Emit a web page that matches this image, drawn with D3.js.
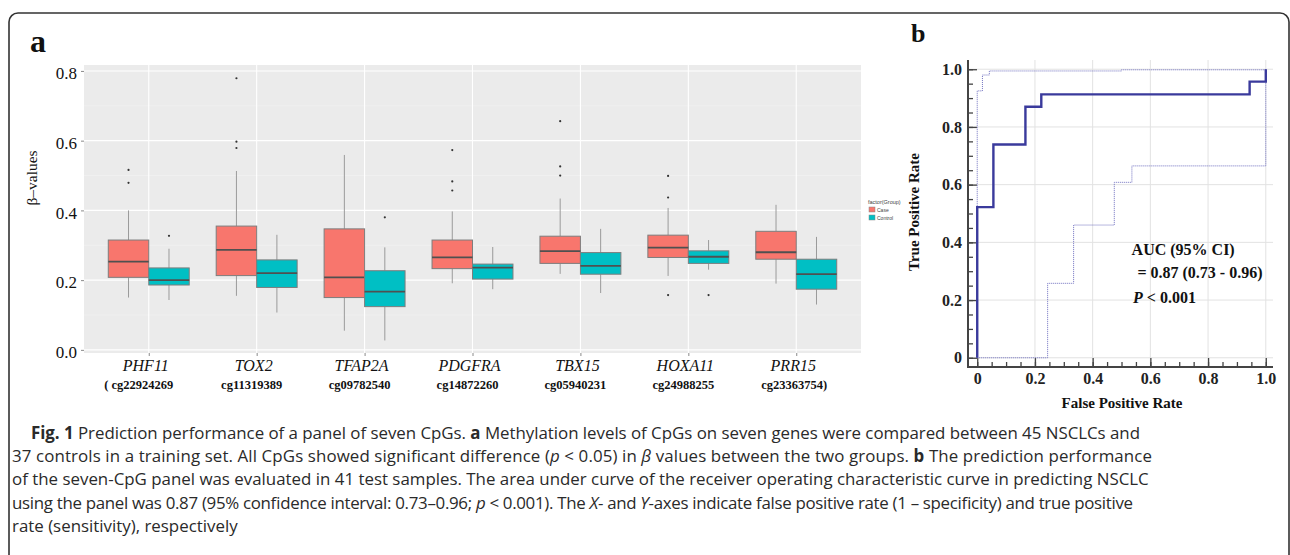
<!DOCTYPE html>
<html>
<head>
<meta charset="utf-8">
<script src="https://cdn.jsdelivr.net/npm/d3@7"></script>
<style>
body { margin: 0; background: #fff; }
svg { display: block; }
</style>
</head>
<body>
<script>
// panel a: beta values per gene, two groups
const genes = ['PHF11', 'TOX2', 'TFAP2A', 'PDGFRA', 'TBX15', 'HOXA11', 'PRR15'];
const probes = ['( cg22924269', 'cg11319389', 'cg09782540', 'cg14872260', 'cg05940231', 'cg24988255', 'cg23363754)'];
const groups = ['Case', 'Control'];
const groupColors = ['#F8766D', '#00BFC4'];

const caseLo  = [0.150, 0.155, 0.055, 0.191, 0.218, 0.212, 0.190];
const caseQ1  = [0.208, 0.213, 0.150, 0.233, 0.248, 0.265, 0.260];
const caseMed = [0.253, 0.287, 0.208, 0.265, 0.283, 0.293, 0.280];
const caseQ3  = [0.315, 0.355, 0.347, 0.315, 0.326, 0.329, 0.340];
const caseHi  = [0.400, 0.513, 0.559, 0.397, 0.434, 0.407, 0.416];
const caseOut = [[0.516, 0.479], [0.779, 0.597, 0.579], [], [0.573, 0.483, 0.457],
                 [0.656, 0.526, 0.500], [0.499, 0.437, 0.157], []];

const ctrlLo  = [0.143, 0.107, 0.027, 0.174, 0.163, 0.230, 0.130];
const ctrlQ1  = [0.186, 0.179, 0.124, 0.203, 0.217, 0.248, 0.174];
const ctrlMed = [0.200, 0.220, 0.167, 0.236, 0.241, 0.267, 0.217];
const ctrlQ3  = [0.235, 0.258, 0.227, 0.246, 0.279, 0.284, 0.260];
const ctrlHi  = [0.290, 0.330, 0.294, 0.295, 0.347, 0.315, 0.324];
const ctrlOut = [[0.327], [], [0.380], [], [], [0.157], []];

const betaTicks = [0, 0.2, 0.4, 0.6, 0.8];
const betaMinor = [0.1, 0.3, 0.5, 0.7];

// panel b: ROC curve with 95% CI bands (step points)
const rocFpr = [0, 0, 0.056, 0.167, 0.222, 0.944, 1];
const rocTpr = [0, 0.522, 0.739, 0.870, 0.913, 0.957, 1];
const ciHiFpr = [0, 0, 0.018, 0.042, 0.50, 1];
const ciHiTpr = [0, 0.925, 0.980, 0.994, 0.998, 1];
const ciLoFpr = [0, 0.244, 0.334, 0.475, 0.536, 1];
const ciLoTpr = [0, 0.258, 0.460, 0.608, 0.665, 1];
const rocTicks = [0, 0.2, 0.4, 0.6, 0.8, 1.0];

const caption = [
    [['Fig. 1', 'b'], [' Prediction performance of a panel of seven CpGs. '], ['a', 'b'],
     [' Methylation levels of CpGs on seven genes were compared between 45 NSCLCs and']],
    [['37 controls in a training set. All CpGs showed significant difference ('], ['p', 'i'],
     [' < 0.05) in '], ['β', 'i'], [' values between the two groups. '], ['b', 'b'], [' The prediction performance']],
    [['of the seven-CpG panel was evaluated in 41 test samples. The area under curve of the receiver operating characteristic curve in predicting NSCLC']],
    [['using the panel was 0.87 (95% confidence interval: 0.73–0.96; '], ['p', 'i'], [' < 0.001). The '],
     ['X', 'i'], ['- and '], ['Y', 'i'], ['-axes indicate false positive rate (1 – specificity) and true positive']],
    [['rate (sensitivity), respectively']]
];

const SERIF = '"Liberation Serif", "Times New Roman", serif';

// small stand-in for d3-selection-multi
d3.selection.prototype.attrs = function(obj)
{
    Object.entries(obj).forEach(([k, v]) => this.attr(k, v));
    return this;
};

function drawBoxes(parent)
{
    const x = d3.scalePoint().domain(genes).range([84, 861]).padding(0.6);
    const y = d3.scaleLinear().domain([-0.009, 0.817]).range([353, 65]);
    const bw = x.step() * 0.75 / 2;

    parent.append('rect')
        .attrs({x: 84, y: 65, width: 777, height: 288, fill: '#EBEBEB'});

    parent.selectAll('.minor').data(betaMinor).enter().append('line')
        .attrs({x1: 84, x2: 861, y1: d => y(d), y2: d => y(d), stroke: '#F3F3F3', 'stroke-width': 0.6});
    parent.selectAll('.major').data(betaTicks).enter().append('line')
        .attrs({x1: 84, x2: 861, y1: d => y(d), y2: d => y(d), stroke: '#fff', 'stroke-width': 1.1});
    parent.selectAll('.vgrid').data(genes).enter().append('line')
        .attrs({x1: d => x(d), x2: d => x(d), y1: 65, y2: 353, stroke: '#fff', 'stroke-width': 1.1});

    const series = [
        {lo: caseLo, q1: caseQ1, med: caseMed, q3: caseQ3, hi: caseHi, out: caseOut, off: -bw / 2, col: groupColors[0]},
        {lo: ctrlLo, q1: ctrlQ1, med: ctrlMed, q3: ctrlQ3, hi: ctrlHi, out: ctrlOut, off: bw / 2, col: groupColors[1]},
    ];
    series.forEach(s => {
        const g = parent.append('g');
        genes.forEach((gene, i) => {
            const cx = x(gene) + s.off;
            g.append('line').attrs({x1: cx, x2: cx, y1: y(s.hi[i]), y2: y(s.q3[i]), stroke: '#9a9a9a', 'stroke-width': 1});
            g.append('line').attrs({x1: cx, x2: cx, y1: y(s.q1[i]), y2: y(s.lo[i]), stroke: '#9a9a9a', 'stroke-width': 1});
            g.append('rect').attrs({
                x: cx - bw / 2, y: y(s.q3[i]), width: bw, height: y(s.q1[i]) - y(s.q3[i]),
                fill: s.col, stroke: '#7d7d7d', 'stroke-width': 1
            });
            g.append('line').attrs({x1: cx - bw / 2, x2: cx + bw / 2, y1: y(s.med[i]), y2: y(s.med[i]),
                stroke: '#505050', 'stroke-width': 1.8});
            g.selectAll(null).data(s.out[i]).enter().append('circle')
                .attrs({cx: cx, cy: d => y(d), r: 1.1, fill: '#333'});
        });
    });

    const yAxis = parent.append('g')
        .attr('transform', 'translate(84,0)')
        .call(d3.axisLeft(y).tickValues(betaTicks).tickFormat(d3.format('.1f')).tickSize(3).tickPadding(4));
    yAxis.select('.domain').remove();
    yAxis.selectAll('line').attr('stroke', '#8a8a8a');
    yAxis.selectAll('text').attrs({'font-family': SERIF, 'font-size': 17, fill: '#111', dy: '0.45em'});

    const xAxis = parent.append('g')
        .attr('transform', 'translate(0,353)')
        .call(d3.axisBottom(x).tickSize(3).tickFormat(''));
    xAxis.select('.domain').remove();
    xAxis.selectAll('line').attr('stroke', '#8a8a8a');

    parent.selectAll('.gene').data(genes).enter().append('text')
        .attrs({x: d => x(d) - 3, y: 371, 'text-anchor': 'middle', 'font-family': SERIF,
            'font-style': 'italic', 'font-size': 16, fill: '#111'})
        .text(d => d);
    parent.selectAll('.probe').data(probes).enter().append('text')
        .attrs({x: (d, i) => x(genes[i]) - 5 + (i === 0 ? -5 : 0) + (i === 6 ? 3 : 0), y: 389,
            'text-anchor': 'middle', 'font-family': SERIF, 'font-weight': 'bold', 'font-size': 12.5, fill: '#111'})
        .text(d => d);

    parent.append('text')
        .attrs({transform: 'translate(37,178) rotate(-90)', 'text-anchor': 'middle',
            'font-family': SERIF, 'font-size': 15.5, fill: '#111'})
        .text('β–values');

    // legend
    const leg = parent.append('g').attr('transform', 'translate(868,202)');
    leg.append('text').attrs({x: 0, y: 2, 'font-family': 'Liberation Sans, sans-serif', 'font-size': 5.5, fill: '#444'})
        .text('factor(Group)');
    groups.forEach((grp, i) => {
        leg.append('rect').attrs({x: 1, y: 5 + i * 8, width: 6, height: 5, fill: groupColors[i], stroke: '#888', 'stroke-width': 0.5});
        leg.append('text').attrs({x: 9, y: 9.5 + i * 8, 'font-family': 'Liberation Sans, sans-serif', 'font-size': 5, fill: '#444'})
            .text(grp);
    });
}

function drawRoc(parent)
{
    const x = d3.scaleLinear().domain([-0.032, 1.025]).range([968, 1273]);
    const y = d3.scaleLinear().domain([-0.032, 1.032]).range([367, 60]);

    parent.selectAll('.hg').data(rocTicks).enter().append('line')
        .attrs({x1: 968, x2: 1273, y1: d => y(d), y2: d => y(d), stroke: '#e2e2e2', 'stroke-width': 1});
    parent.selectAll('.vg').data(rocTicks.slice(1)).enter().append('line')
        .attrs({x1: d => x(d), x2: d => x(d), y1: 60, y2: 367, stroke: '#e2e2e2', 'stroke-width': 1});

    const fmt = d => d === 0 ? '0' : d3.format('.1f')(d);
    const minor = d3.range(0, 1.001, 0.05);

    const styleAxis = g => {
        g.select('.domain').remove();
        g.selectAll('line').attrs({stroke: '#444', 'stroke-width': 1.3});
        g.selectAll('text').attrs({'font-family': SERIF, 'font-weight': 'bold', 'font-size': 16, fill: '#222'});
    };
    parent.append('g').attr('transform', 'translate(968,0)')
        .call(d3.axisLeft(y).tickValues(minor).tickSize(-5).tickFormat('')).call(styleAxis);
    parent.append('g').attr('transform', 'translate(968,0)')
        .call(d3.axisLeft(y).tickValues(rocTicks).tickSize(-9).tickPadding(6).tickFormat(fmt)).call(styleAxis);
    parent.append('g').attr('transform', 'translate(0,367)')
        .call(d3.axisBottom(x).tickValues(minor).tickSize(-5).tickFormat('')).call(styleAxis);
    parent.append('g').attr('transform', 'translate(0,367)')
        .call(d3.axisBottom(x).tickValues(rocTicks).tickSize(-9).tickPadding(6).tickFormat(fmt)).call(styleAxis);

    parent.append('path').attrs({d: 'M968,60V367H1273', fill: 'none', stroke: '#444', 'stroke-width': 2});

    const line = d3.line().curve(d3.curveStepAfter).x(d => x(d[0])).y(d => y(d[1]));
    const zip = (a, b) => a.map((v, i) => [v, b[i]]);

    parent.append('path').attrs({d: line(zip(ciHiFpr, ciHiTpr)), fill: 'none', stroke: '#6f6fbf',
        'stroke-width': 1, 'stroke-dasharray': '1,1'});
    parent.append('path').attrs({d: line(zip(ciLoFpr, ciLoTpr)), fill: 'none', stroke: '#6f6fbf',
        'stroke-width': 1, 'stroke-dasharray': '1,1'});
    parent.append('path').attrs({d: line(zip(rocFpr, rocTpr)), fill: 'none', stroke: '#3a3a9c',
        'stroke-width': 2.4});

    const txt = {'font-family': SERIF, 'font-weight': 'bold', 'font-size': 16, fill: '#111'};
    parent.append('text').attrs(txt).attrs({x: x(0.535), y: y(0.357)}).text('AUC (95% CI)');
    parent.append('text').attrs(txt).attrs({x: x(0.555), y: y(0.277)}).text('= 0.87 (0.73 - 0.96)');
    const p = parent.append('text').attrs(txt).attrs({x: x(0.54), y: y(0.19)});
    p.append('tspan').attr('font-style', 'italic').text('P');
    p.append('tspan').text(' < 0.001');

    parent.append('text').attrs(txt).attrs({x: 1122, y: 408, 'text-anchor': 'middle', 'font-size': 15})
        .text('False Positive Rate');
    parent.append('text').attrs(txt).attrs({transform: 'translate(919,212) rotate(-90)', 'text-anchor': 'middle', 'font-size': 15})
        .text('True Positive Rate');
}

function drawCaption(parent)
{
    const starts = [31, 12, 12, 12, 12];
    const ends = [1140, 1152, 1150, 1133, null];   // right edges measured on the reference
    const lines = caption.map((segs, i) => {
        const t = parent.append('text')
            .attrs({x: starts[i], y: 439 + i * 23.2, 'font-family': '"Open Sans", "Noto Sans", sans-serif',
                'font-size': 16, fill: '#2a2a2a'});
        segs.forEach(([s, st]) => {
            const ts = t.append('tspan').text(s);
            if (st === 'b') ts.attr('font-weight', 'bold');
            if (st === 'i') ts.attr('font-style', 'italic');
        });
        return t;
    });
    // size from the plain third line, then nudge spacing of the others
    const w = lines[2].node().getComputedTextLength();
    const fs = 16 * (ends[2] - starts[2]) / w;
    lines.forEach(t => t.attr('font-size', fs));
    lines.forEach((t, i) => {
        if (ends[i] && i !== 2) t.attrs({textLength: ends[i] - starts[i], lengthAdjust: 'spacing'});
    });
}

function main()
{
    const svg = d3.select('body').append('svg')
        .attrs({width: 1290, height: 555});
    svg.append('rect').attrs({x: 0, y: 0, width: 1290, height: 555, fill: '#fff'});
    svg.append('rect').attrs({x: 9, y: 13, width: 1280, height: 620, rx: 9, fill: 'none',
        stroke: '#333', 'stroke-width': 1.6});

    svg.append('text').attrs({x: 30, y: 52, 'font-family': SERIF, 'font-weight': 'bold', 'font-size': 32, fill: '#111'})
        .text('a');
    svg.append('text').attrs({x: 911, y: 42, 'font-family': SERIF, 'font-weight': 'bold', 'font-size': 26, fill: '#111'})
        .text('b');

    drawBoxes(svg.append('g'));
    drawRoc(svg.append('g'));
    drawCaption(svg.append('g'));
}

main();
</script>
</body>
</html>
